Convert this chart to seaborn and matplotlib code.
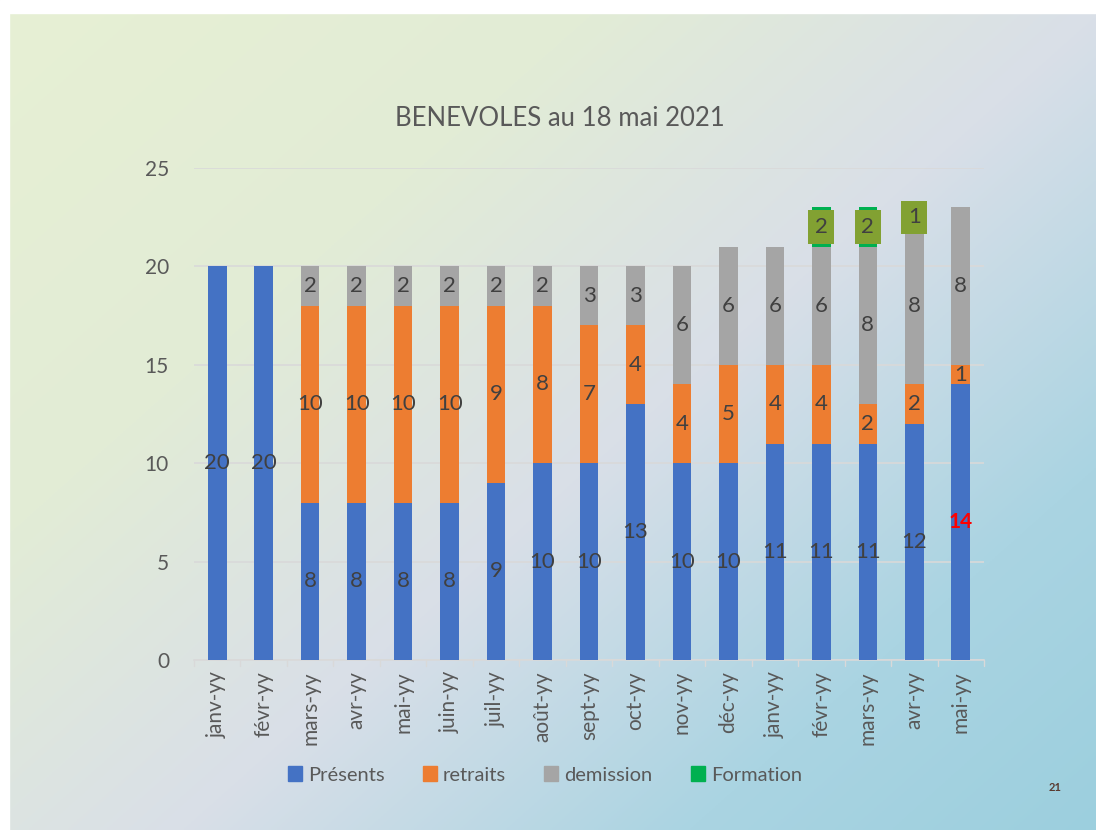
import numpy as np
import pandas as pd
import matplotlib
matplotlib.use("Agg")
import matplotlib.pyplot as plt
import seaborn as sns
from matplotlib.patches import Patch

months = ["janv-yy", "févr-yy", "mars-yy", "avr-yy", "mai-yy", "juin-yy", "juil-yy",
          "août-yy", "sept-yy", "oct-yy", "nov-yy", "déc-yy", "janv-yy", "févr-yy",
          "mars-yy", "avr-yy", "mai-yy"]
presents = [20, 20, 8, 8, 8, 8, 9, 10, 10, 13, 10, 10, 11, 11, 11, 12, 14]
retraits = [0, 0, 10, 10, 10, 10, 9, 8, 7, 4, 4, 5, 4, 4, 2, 2, 1]
demission = [0, 0, 2, 2, 2, 2, 2, 2, 3, 3, 6, 6, 6, 6, 8, 8, 8]
formation = [0, 0, 0, 0, 0, 0, 0, 0, 0, 0, 0, 0, 0, 2, 2, 1, 0]
series_names = ["Présents", "retraits", "demission", "Formation"]
title = "BENEVOLES au 18 mai 2021"
yticks = [0, 5, 10, 15, 20, 25]

c_blue, c_orange, c_gray, c_green = "#4472C4", "#ED7D31", "#A5A5A5", "#00B050"
c_olive = "#82A132"
txt = "#404040"
axis_txt = "#595959"

sns.set_theme(style="white")
plt.rcParams['font.family'] = ['Lato', 'DejaVu Sans']

W, H = 1096, 830
fig = plt.figure(figsize=(W / 100, H / 100), dpi=100)

# background gradient
bg = fig.add_axes([0, 0, 1, 1], zorder=-10)
xx, yy = np.meshgrid(np.linspace(0, 1, 400), np.linspace(0, 1, 300))
t = (xx * 1.0 + yy * 0.85) / 1.85
stops = np.array([0.0, 0.3, 0.55, 0.8, 1.0])
cols = np.array([[231, 240, 212], [226, 236, 214], [217, 223, 232], [170, 212, 226], [156, 207, 222]]) / 255
img = np.zeros(t.shape + (3,))
for k in range(3):
    img[..., k] = np.interp(t, stops, cols[:, k])
bg.imshow(img, extent=[0, 1, 0, 1], origin="upper", aspect="auto")
bg.add_patch(plt.Rectangle((0, 1 - 13 / H), 1, 13 / H, color="white", transform=bg.transAxes))
bg.add_patch(plt.Rectangle((0, 0), 9 / W, 1, color="white", transform=bg.transAxes))
bg.set_xlim(0, 1); bg.set_ylim(0, 1)
bg.axis("off")

ax = fig.add_axes([194 / W, 1 - 660 / H, (984 - 194) / W, (660 - 168) / H])
ax.patch.set_alpha(0)

idx = list(range(len(months)))
p = np.array(presents); r = np.array(retraits); d = np.array(demission); f = np.array(formation)
df = pd.DataFrame({"x": idx, "total": p + r + d + f, "prd": p + r + d, "pr": p + r, "p": p})

for col, c in [("total", c_green), ("prd", c_gray), ("pr", c_orange), ("p", c_blue)]:
    sns.barplot(data=df, x="x", y=col, color=c, width=0.4, saturation=1,
                linewidth=0, ax=ax, zorder=3)

fs = 16
for i in idx:
    base = 0
    for vals, kind in [(p, "p"), (r, "r"), (d, "d"), (f, "f")]:
        v = vals[i]
        if v > 0:
            yc = base + v / 2
            if kind == "f":
                ax.text(i, yc, str(v), ha="center", va="center", fontsize=fs, color=txt, zorder=5,
                        bbox=dict(boxstyle="square,pad=0.3", fc=c_olive, ec="none"))
            elif kind == "p" and i == len(months) - 1:
                ax.text(i, yc, str(v), ha="center", va="center", fontsize=fs - 1, color="#FF0000",
                        fontweight="bold", zorder=5)
            else:
                ax.text(i, yc, str(v), ha="center", va="center", fontsize=fs, color=txt, zorder=5)
        base += v

ax.set_ylim(0, 25)
ax.set_xlim(-0.5, len(months) - 0.5)
ax.set_yticks(yticks)
ax.set_yticklabels([str(v) for v in yticks], fontsize=15, color=axis_txt)
ax.yaxis.grid(True, color="#D9D9D9", linewidth=1.2, zorder=0)
ax.set_axisbelow(True)
ax.set_xticks(idx)
ax.set_xticklabels(months, rotation=90, fontsize=15, color=axis_txt, ha="center", va="top")
ax.set_xlabel(""); ax.set_ylabel("")
ax.tick_params(axis="y", length=0, pad=18)
ax.tick_params(axis="x", length=0, pad=8)
for i in range(len(months) + 1):
    ax.plot([i - 0.5, i - 0.5], [0, -0.3], color="#D9D9D9", lw=1, clip_on=False, zorder=2)
for s in ["top", "right", "left"]:
    ax.spines[s].set_visible(False)
ax.spines["bottom"].set_color("#D9D9D9")
ax.spines["bottom"].set_linewidth(1.2)

fig.text(560 / W, 1 - 118 / H, title, ha="center", va="center", fontsize=18.5, color=axis_txt)

handles = [Patch(color=c) for c in [c_blue, c_orange, c_gray, c_green]]
fig.legend(handles, series_names, loc="center", bbox_to_anchor=(545 / W, 1 - 775 / H), ncol=4,
           frameon=False, fontsize=14.5, handlelength=0.7, handleheight=0.7, handletextpad=0.3,
           columnspacing=1.9, labelcolor=axis_txt)

fig.text(1055 / W, 1 - 787 / H, "21", ha="center", va="center", fontsize=8, color="#5A3A30",
         fontweight="bold")

fig.savefig("out.png", dpi=100)
